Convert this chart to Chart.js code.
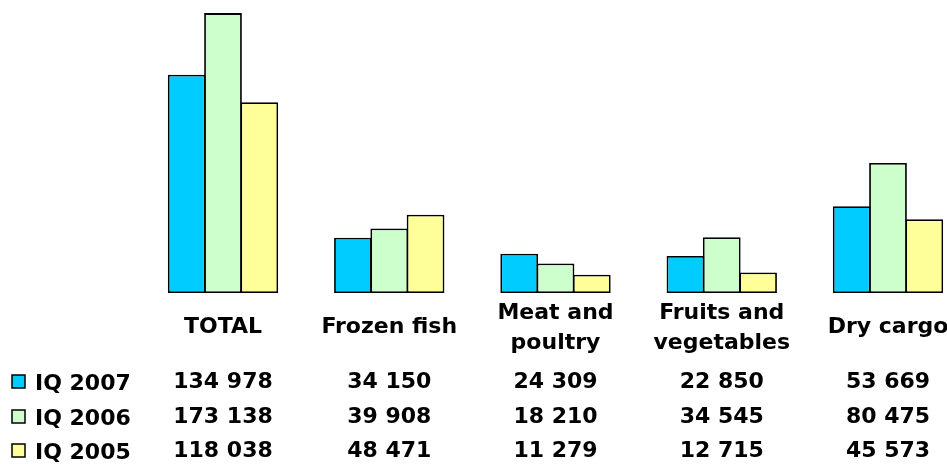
<!DOCTYPE html>
<html>
<head>
<meta charset="utf-8">
<script src="https://cdn.jsdelivr.net/npm/chart.js@4/dist/chart.umd.min.js"></script>
<style>
  html, body { margin: 0; padding: 0; background: #fff; }
  #wrap { width: 947px; height: 464px; position: relative; }
</style>
</head>
<body>
<div id="wrap"><canvas id="c"></canvas></div>
<script>
const categories = [["TOTAL"], ["Frozen fish"], ["Meat and", "poultry"], ["Fruits and", "vegetables"], ["Dry cargo"]];
const seriesNames = ["IQ 2007", "IQ 2006", "IQ 2005"];
const iq2007 = [134978, 34150, 24309, 22850, 53669];
const iq2006 = [173138, 39908, 18210, 34545, 80475];
const iq2005 = [118038, 48471, 11279, 12715, 45573];
const colors = ["#00CCFF", "#CCFFCC", "#FFFF99"];

const FONT = "bold 22px 'DejaVu Sans'";

function fmt(v) {
  return String(v).replace(/\B(?=(\d{3})+(?!\d))/g, " ");
}

// category labels, data table and legend keys under the bars
const tablePlugin = {
  id: "table",
  afterDraw(chart) {
    const ctx = chart.ctx;
    const x = chart.scales.x;
    const rows = [iq2007, iq2006, iq2005];
    const rowY = [382, 417, 451];
    ctx.save();
    ctx.font = FONT;
    ctx.fillStyle = "#000";
    ctx.textAlign = "center";
    ctx.textBaseline = "middle";
    categories.forEach((lines, i) => {
      const cx = x.getPixelForValue(i);
      if (lines.length === 1) {
        ctx.fillText(lines[0], cx, 327);
      } else {
        ctx.fillText(lines[0], cx, 313);
        ctx.fillText(lines[1], cx, 343);
      }
      rows.forEach((r, j) => ctx.fillText(fmt(r[i]), cx, rowY[j]));
    });
    ctx.textAlign = "left";
    seriesNames.forEach((name, j) => {
      ctx.fillStyle = colors[j];
      ctx.fillRect(12, rowY[j] - 7, 13, 13);
      ctx.strokeStyle = "#000";
      ctx.lineWidth = 1.5;
      ctx.strokeRect(12, rowY[j] - 7, 13, 13);
      ctx.fillStyle = "#000";
      ctx.fillText(name, 35, rowY[j] + 2);
    });
    ctx.restore();
  }
};

new Chart(document.getElementById("c"), {
  type: "bar",
  data: {
    labels: categories.map(c => c.join(" ")),
    datasets: [
      { label: seriesNames[0], data: iq2007, backgroundColor: colors[0] },
      { label: seriesNames[1], data: iq2006, backgroundColor: colors[1] },
      { label: seriesNames[2], data: iq2005, backgroundColor: colors[2] }
    ]
  },
  options: {
    responsive: true,
    maintainAspectRatio: false,
    animation: false,
    layout: { padding: { left: 223, right: 59, top: 2, bottom: 171 } },
    datasets: {
      bar: {
        borderColor: "#000",
        borderWidth: 1.8,
        borderSkipped: false,
        categoryPercentage: 0.655,
        barPercentage: 1.04,
        clip: false
      }
    },
    plugins: {
      legend: { display: false },
      tooltip: { enabled: false }
    },
    scales: {
      x: { display: false, offset: false },
      y: { display: false, min: 0, max: 180000 }
    }
  },
  plugins: [tablePlugin]
});
</script>
</body>
</html>
